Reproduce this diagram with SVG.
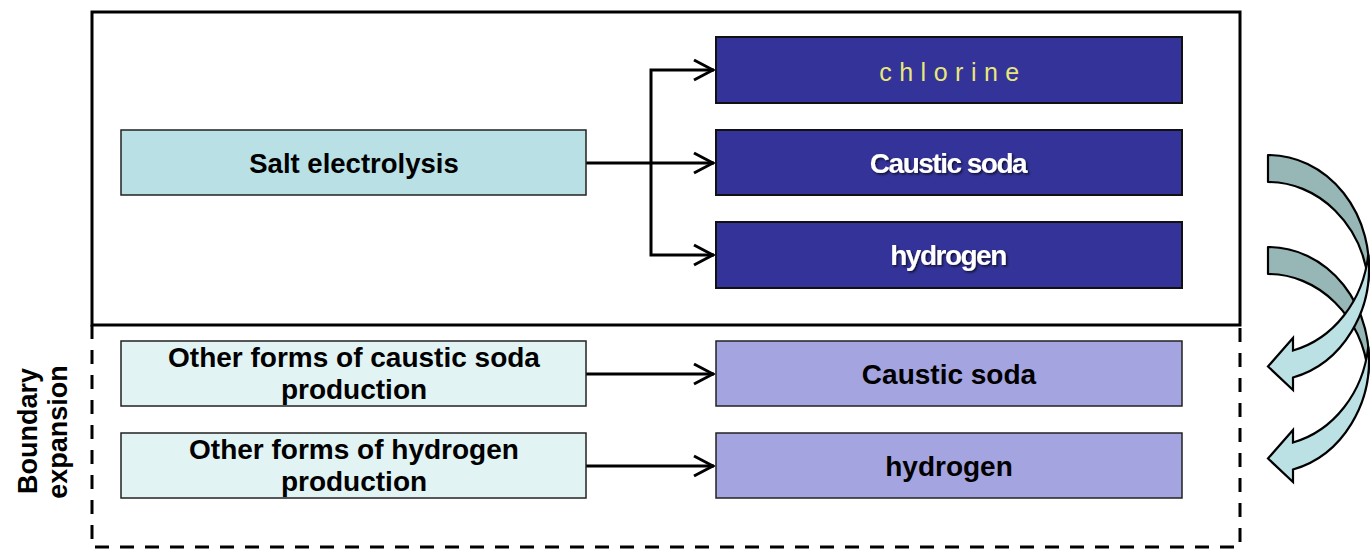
<svg xmlns="http://www.w3.org/2000/svg" width="1370" height="550" viewBox="0 0 1370 550">
  <style>
    text { font-family: "Liberation Sans", Arial, sans-serif; }
    .lbl { font-size: 28px; font-weight: bold; fill: #000; text-anchor: middle; }
    .src { fill: #B9E0E4; stroke: #222; stroke-width: 1.5; }
    .alt { fill: #E2F3F3; stroke: #222; stroke-width: 1.5; }
    .prod { fill: #333399; stroke: #111; stroke-width: 2; }
    .prod2 { fill: #A4A4E0; stroke: #222; stroke-width: 1.5; }
    .white { font-size: 28px; font-weight: bold; fill: #fff; text-anchor: middle; letter-spacing: -1.5px; filter: url(#shadow); }
    .link { fill: none; stroke: #000; stroke-width: 3; }
    .back { fill: #97B6B6; stroke: #000; stroke-width: 2.2; stroke-linejoin: round; }
    .front { fill: #BCE1E4; stroke: #000; stroke-width: 2.2; stroke-linejoin: miter; }
  </style>
  <defs>
    <marker id="open" markerUnits="userSpaceOnUse" markerWidth="26" markerHeight="26" viewBox="-24 -13 26 26" refX="0" refY="0" orient="auto">
      <path d="M-20,-10 L-1,0 L-20,10" fill="none" stroke="#000" stroke-width="3"/>
    </marker>
    <filter id="shadow" x="-10%" y="-30%" width="125%" height="170%">
      <feDropShadow dx="1.5" dy="1.5" stdDeviation="1.2" flood-color="#000" flood-opacity="0.7"/>
    </filter>
  </defs>

  <!-- system boundary (solid) and its expansion (dashed) -->
  <g id="boundary">
    <rect x="92" y="12" width="1148" height="313" fill="none" stroke="#000" stroke-width="3"/>
    <path d="M92,325 V547 H1240 V325" fill="none" stroke="#000" stroke-width="3" stroke-dasharray="14 11"/>
  </g>

  <g id="boundary-label">
    <text class="lbl" style="font-size:27px" transform="translate(37,431) rotate(-90)">Boundary</text>
    <text class="lbl" style="font-size:27px" transform="translate(67,432) rotate(-90)">expansion</text>
  </g>

  <!-- connectors -->
  <g id="connectors">
    <path class="link" d="M586,163 H714" marker-end="url(#open)"/>
    <path class="link" d="M651,163 V70 H714" marker-end="url(#open)"/>
    <path class="link" d="M651,163 V255 H714" marker-end="url(#open)"/>
    <path class="link" d="M586,374 H714" marker-end="url(#open)"/>
    <path class="link" d="M586,466 H714" marker-end="url(#open)"/>
  </g>

  <g id="salt-electrolysis">
    <rect class="src" x="121" y="130" width="465" height="65"/>
    <text class="lbl" style="font-size:27.5px" x="354" y="173">Salt electrolysis</text>
  </g>

  <g id="chlorine">
    <rect class="prod" x="716" y="37" width="466" height="66"/>
    <text x="953" y="81" text-anchor="middle" style="font-size:25px;fill:#E8E87A;letter-spacing:7.5px">chlorine</text>
  </g>

  <g id="caustic-soda-main">
    <rect class="prod" x="716" y="130" width="466" height="65"/>
    <text class="white" x="948" y="173">Caustic soda</text>
  </g>

  <g id="hydrogen-main">
    <rect class="prod" x="716" y="222" width="466" height="66"/>
    <text class="white" x="948" y="265">hydrogen</text>
  </g>

  <g id="other-caustic">
    <rect class="alt" x="121" y="341" width="465" height="65"/>
    <text class="lbl" x="354" y="367">Other forms of caustic soda</text>
    <text class="lbl" x="354" y="399">production</text>
  </g>

  <g id="other-hydrogen">
    <rect class="alt" x="121" y="433" width="465" height="65"/>
    <text class="lbl" x="354" y="459">Other forms of hydrogen</text>
    <text class="lbl" x="354" y="491">production</text>
  </g>

  <g id="caustic-soda-alt">
    <rect class="prod2" x="716" y="341" width="466" height="65"/>
    <text class="lbl" x="949" y="384">Caustic soda</text>
  </g>

  <g id="hydrogen-alt">
    <rect class="prod2" x="716" y="433" width="466" height="65"/>
    <text class="lbl" x="949" y="476">hydrogen</text>
  </g>

  <!-- curved transfer arrows: lower one first so the upper one's front lies over it -->
  <g id="curved-arrow-hydrogen" transform="translate(0,92)">
    <path class="back" d="M1268,155 A101,113 0 0 1 1368.28,281.5 A101,113 0 0 0 1268,182 Z"/>
    <path class="front" d="M1368.28,254.5 A101,113 0 0 1 1293,350.5 L1293,338 L1268,366.5 L1293,390 L1293,377.5 A101,113 0 0 0 1368.28,254.5 Z"/>
  </g>
  <g id="curved-arrow-caustic">
    <path class="back" d="M1268,155 A101,113 0 0 1 1368.28,281.5 A101,113 0 0 0 1268,182 Z"/>
    <path class="front" d="M1368.28,254.5 A101,113 0 0 1 1293,350.5 L1293,338 L1268,366.5 L1293,390 L1293,377.5 A101,113 0 0 0 1368.28,254.5 Z"/>
  </g>
</svg>
